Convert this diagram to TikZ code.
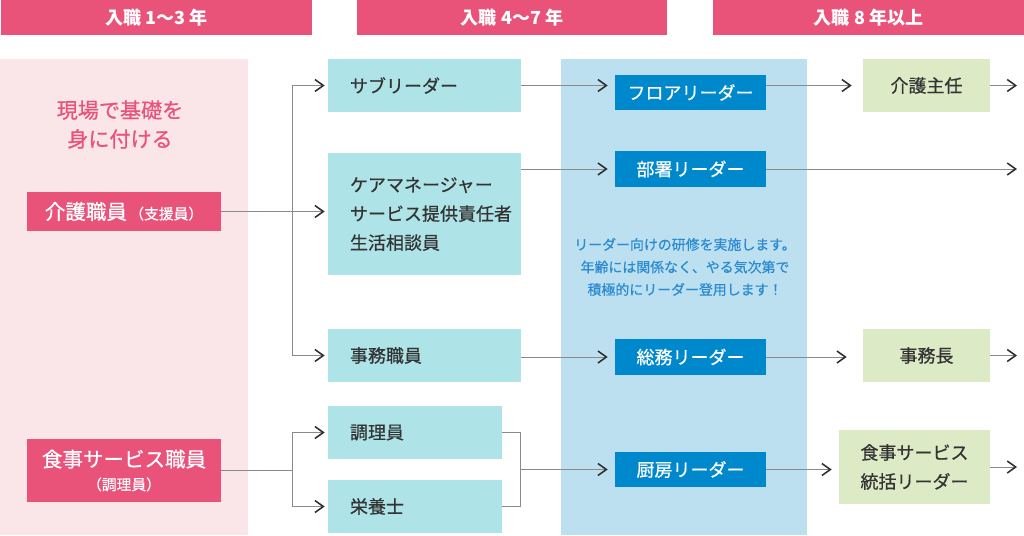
\documentclass[tikz,border=0pt]{standalone}
\usepackage{fontspec}
\setmainfont{Noto Sans CJK JP}
\newfontfamily\medfont{Noto Sans CJK JP}[FakeBold=0.6]
\usetikzlibrary{arrows.meta}

\definecolor{hdrpink}{HTML}{E9537A}
\definecolor{panelpink}{HTML}{FAE5E8}
\definecolor{panelblue}{HTML}{BDE0F1}
\definecolor{boxcyan}{HTML}{AEE4E7}
\definecolor{boxblue}{HTML}{0088CC}
\definecolor{boxgreen}{HTML}{DDEAC6}
\definecolor{notetext}{HTML}{2B8BD0}
\definecolor{darktext}{HTML}{333333}
\definecolor{linegray}{HTML}{8A8A8A}
\definecolor{tipdark}{HTML}{2E2E2E}

\begin{document}
\begin{tikzpicture}[x=0.025cm, y=-0.025cm,
    header/.style={fill=hdrpink, text=white, inner sep=0, minimum height=0.875cm,
        font=\bfseries\fontsize{12.8pt}{15pt}\selectfont},
    pinkbox/.style={fill=hdrpink, text=white, inner sep=0, minimum width=4.85cm, align=center,
        font=\medfont},
    cyanbox/.style={fill=boxcyan, text=darktext, inner xsep=0.55cm, inner ysep=0,
        align=left, font=\medfont\fontsize{12.8pt}{20.6pt}\selectfont},
    bluebox/.style={fill=boxblue, text=white, inner sep=0, minimum width=3.775cm,
        font=\medfont\fontsize{12.8pt}{15pt}\selectfont},
    greenbox/.style={fill=boxgreen, text=darktext, inner sep=0, align=center,
        font=\medfont\fontsize{12.8pt}{20.6pt}\selectfont},
    arr/.style={draw=linegray, line width=0.7pt,
        -{Straight Barb[length=6pt, width=8.5pt, line width=1.1pt, color=tipdark]}},
    link/.style={draw=linegray, line width=0.7pt}]
\useasboundingbox (0,0) rectangle (1024,535);

% background columns
\fill[panelpink] (0,59) rectangle (248,535);
\fill[panelblue] (561,59) rectangle (807,535);

% year headers
\node[header, minimum width=7.775cm] (hdrA) at (156.5,17.5) {入職 1〜3 年};
\node[header, minimum width=7.75cm] (hdrB) at (512,17.5) {入職 4〜7 年};
\node[header, minimum width=7.775cm] (hdrC) at (868.5,17.5) {入職 8 年以上};

% first years
\node[text=hdrpink, align=center, font=\medfont\fontsize{15pt}{20.6pt}\selectfont] (motto) at (120,124.5) {現場で基礎を\\身に付ける};
\node[pinkbox, minimum height=0.975cm] (kaigoStaff) at (124,211.5)
    {{\fontsize{14.6pt}{16pt}\selectfont 介護職員}\,{\fontsize{10.5pt}{12pt}\selectfont （支援員）}};
\node[pinkbox, minimum height=1.575cm] (foodStaff) at (124,470.5)
    {{\fontsize{14.6pt}{20pt}\selectfont 食事サービス職員}\\[4.5pt]{\fontsize{10.5pt}{12pt}\selectfont （調理員）}};

% 4-7 years
\node[cyanbox, text width=3.725cm, minimum height=1.325cm] (sub) at (424.5,85.5) {サブリーダー};
\node[cyanbox, text width=3.725cm, minimum height=3.05cm] (caremgr) at (424.5,214)
    {ケアマネージャー\\サービス提供責任者\\生活相談員};
\node[cyanbox, text width=3.725cm, minimum height=1.325cm] (jimu) at (424.5,355.5) {事務職員};
\node[cyanbox, text width=3.25cm, minimum height=1.325cm] (chori) at (415,432.5) {調理員};
\node[cyanbox, text width=3.25cm, minimum height=1.325cm] (eiyo) at (415,506.5) {栄養士};

% leaders
\node[bluebox, minimum height=0.875cm] (floor) at (690.5,92.5) {フロアリーダー};
\node[bluebox, minimum height=0.9cm] (busho) at (690.5,169) {部署リーダー};
\node[bluebox, minimum height=0.9cm] (somu) at (690.5,357) {総務リーダー};
\node[bluebox, minimum height=0.875cm] (chubo) at (690.5,469.5) {厨房リーダー};
\node[text=notetext, align=center, font=\medfont\fontsize{9.9pt}{16pt}\selectfont] (note) at (685,267)
    {リーダー向けの研修を実施します。\\年齢には関係なく、やる気次第で\\積極的にリーダー登用します！};

% 8 years and more
\node[greenbox, minimum width=3.175cm, minimum height=1.325cm] (shunin) at (926.5,85.5) {介護主任};
\node[greenbox, minimum width=3.175cm, minimum height=1.325cm] (jimucho) at (926.5,355.5) {事務長};
\node[greenbox, minimum width=3.775cm, minimum height=1.85cm] (tokatsu) at (914.5,467) {食事サービス\\統括リーダー};

% branch points
\coordinate (trunkA) at (292,0);
\coordinate (joinK) at (520,0);
\coordinate (outX) at (1017,0);

% connectors
\draw[arr, shorten >=0.075cm] (kaigoStaff.east) -- (kaigoStaff.east -| caremgr.west);
\draw[arr, shorten >=0.075cm] (trunkA |- kaigoStaff.east) -- (trunkA |- sub.west) -- (sub.west);
\draw[arr, shorten >=0.075cm] (trunkA |- kaigoStaff.east) -- (trunkA |- jimu.west) -- (jimu.west);
\draw[link] (foodStaff.east) -- (foodStaff.east -| trunkA);
\draw[arr, shorten >=0.075cm] (trunkA |- foodStaff.east) -- (trunkA |- chori.west) -- (chori.west);
\draw[arr, shorten >=0.075cm] (trunkA |- foodStaff.east) -- (trunkA |- eiyo.west) -- (eiyo.west);
\draw[link] (chori.east) -- (chori.east -| joinK) -- (eiyo.east -| joinK) -- (eiyo.east);

\draw[arr, shorten >=0.175cm] (sub.east) -- (sub.east -| floor.west);
\draw[arr, shorten >=0.175cm] (caremgr.east |- busho.west) -- (busho.west);
\draw[arr, shorten >=0.175cm] (jimu.east |- somu.west) -- (somu.west);
\draw[arr, shorten >=0.175cm] (joinK |- chubo.west) -- (chubo.west);

\draw[arr, shorten >=0.275cm] (sub.east -| floor.east) -- (sub.east -| shunin.west);
\draw[arr] (busho.east) -- (busho.east -| outX);
\draw[arr, shorten >=0.4cm] (somu.east) -- (somu.east -| jimucho.west);
\draw[arr, shorten >=0.175cm] (chubo.east) -- (chubo.east -| tokatsu.west);

\draw[arr] (shunin.east) -- (shunin.east -| outX);
\draw[arr] (jimucho.east) -- (jimucho.east -| outX);
\draw[arr] (tokatsu.east) -- (tokatsu.east -| outX);

\end{tikzpicture}
\end{document}
